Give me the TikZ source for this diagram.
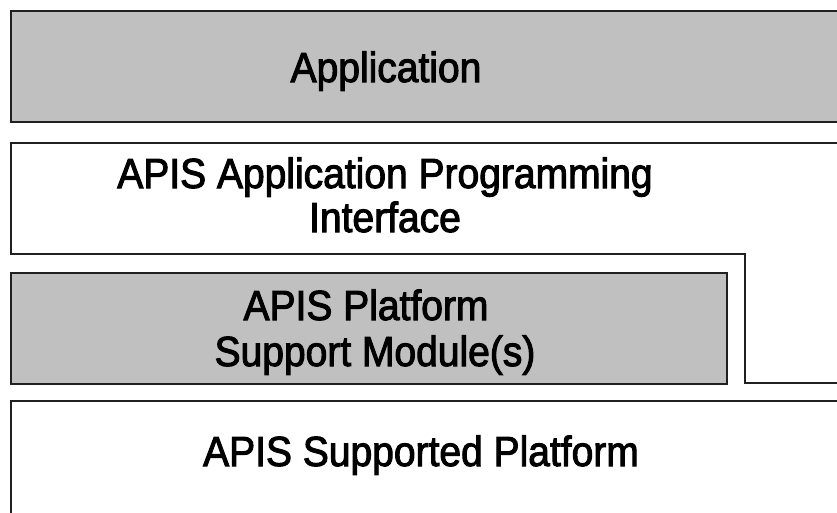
\documentclass[tikz,border=0pt]{standalone}
\usepackage{fontspec}
\setmainfont{Liberation Sans}
\newfontfamily\labelfont{Liberation Sans}[FakeBold=2.5]
\definecolor{boxgray}{HTML}{C0C0C0}
\definecolor{edge}{HTML}{202020}
\begin{document}
\begin{tikzpicture}[x=1pt,y=-1pt,
  layer/.style={draw=edge,line width=1.6pt},
  graylayer/.style={layer,fill=boxgray},
  whitelayer/.style={layer,fill=white},
  label/.style={font=\labelfont\fontsize{39}{40}\selectfont,anchor=base,inner sep=0pt}]
\useasboundingbox (0,0) rectangle (837,512);
\clip (0,0) rectangle (837,512);
% Application layer
\draw[graylayer] (11,11) rectangle (850,122);
% API layer (L-shaped)
\draw[whitelayer] (850,143) -- (11,143) -- (11,254) -- (745,254) -- (745,383) -- (850,383);
% Platform support module
\draw[graylayer] (11,273) rectangle (727,384);
% Supported platform
\draw[whitelayer] (850,401) -- (11,401) -- (11,530);
% Texts
\node[label] (app) at (386,82) {\scalebox{1}[1.08]{Application}};
\node[label] (api1) at (385,188) {\scalebox{1}[1.08]{APIS Application Programming}};
\node[label] (api2) at (385,232) {\scalebox{1}[1.08]{Interface}};
\node[label] (psm1) at (366,320) {\scalebox{1}[1.08]{APIS Platform}};
\node[label] (psm2) at (375,366) {\scalebox{1}[1.08]{Support Module(s)}};
\node[label] (sup) at (421,466) {\scalebox{1}[1.08]{APIS Supported Platform}};
\end{tikzpicture}
\end{document}
